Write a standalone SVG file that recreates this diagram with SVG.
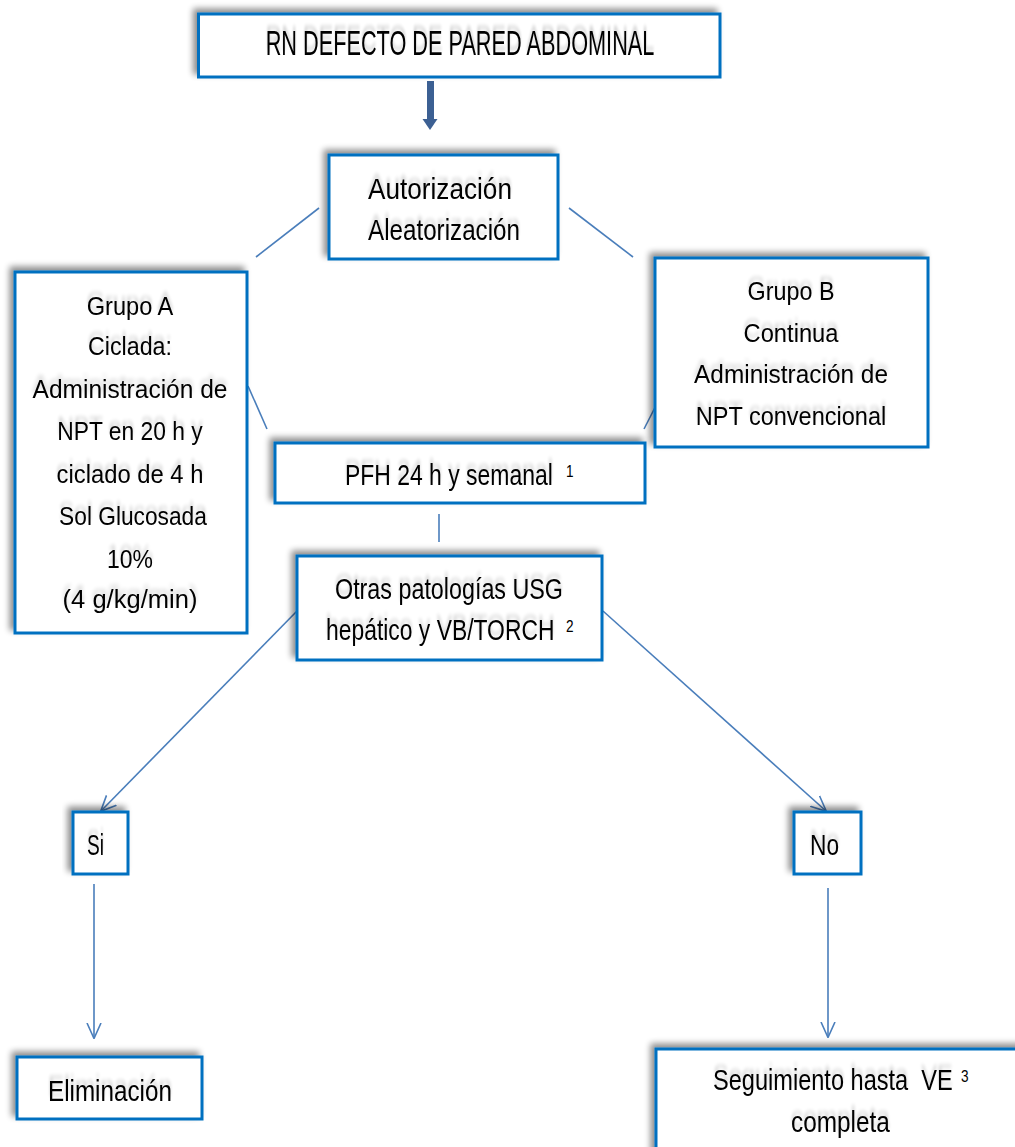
<svg xmlns="http://www.w3.org/2000/svg" width="1015" height="1147" viewBox="0 0 1015 1147">
<defs>
<style>
.box{fill:#ffffff;stroke:#0070C0;stroke-width:3;filter:url(#sh)}
.t{font-family:"Liberation Sans",Arial,sans-serif;fill:#000000;filter:url(#tsh)}
.big{font-size:36px}
.m{font-size:30px}
.s{font-size:26px}
.sup{font-family:"Liberation Sans",Arial,sans-serif;font-size:17px;fill:#000000}
.c{fill:none;stroke:#4A7EBB;stroke-width:1.6}
.ca{fill:none;stroke:#4A7EBB;stroke-width:1.6;marker-end:url(#ah)}
</style>
<filter id="sh" x="-20%" y="-20%" width="140%" height="140%">
<feGaussianBlur in="SourceAlpha" stdDeviation="3"/>
<feOffset dx="-4" dy="-4" result="b"/>
<feComponentTransfer><feFuncA type="linear" slope="0.45"/></feComponentTransfer>
<feMerge><feMergeNode/><feMergeNode in="SourceGraphic"/></feMerge>
</filter>
<filter id="tsh" x="-10%" y="-50%" width="120%" height="200%">
<feGaussianBlur in="SourceAlpha" stdDeviation="2"/>
<feOffset dx="0" dy="-5"/>
<feComponentTransfer><feFuncA type="linear" slope="0.18"/></feComponentTransfer>
<feMerge><feMergeNode/><feMergeNode in="SourceGraphic"/></feMerge>
</filter>
<marker id="ah" viewBox="0 0 16 16" refX="15" refY="8" markerWidth="16" markerHeight="16" markerUnits="userSpaceOnUse" orient="auto">
<path d="M0,1 L15.5,8 L0,15" fill="none" stroke="#4A7EBB" stroke-width="1.6"/>
</marker>
</defs>
<rect width="1015" height="1147" fill="#ffffff"/>

<g id="connectors">
<rect x="427" y="81" width="7" height="40" fill="#3C6093"/>
<polygon points="422.5,119 437.5,119 430,130" fill="#3C6093"/>
<line class="c" x1="319" y1="208" x2="256" y2="257"/>
<line class="c" x1="569" y1="208" x2="633" y2="257"/>
<line class="c" x1="248" y1="386" x2="267" y2="429"/>
<line class="c" x1="666" y1="386" x2="644" y2="429"/>
<line class="c" x1="439" y1="514" x2="439" y2="542"/>
<line class="ca" x1="297" y1="611" x2="101" y2="811"/>
<line class="ca" x1="603" y1="611" x2="826" y2="811"/>
<line class="ca" x1="94" y1="884" x2="94" y2="1038"/>
<line class="ca" x1="828" y1="888" x2="828" y2="1037"/>
</g>

<g id="node-top">
<rect class="box" x="198.5" y="14" width="521.5" height="63"/>
<text class="t big" transform="translate(460,55) scale(0.603,1)" text-anchor="middle">RN DEFECTO DE PARED ABDOMINAL</text>
</g>

<g id="node-autorizacion">
<rect class="box" x="329" y="155" width="229" height="104"/>
<text class="t m" transform="translate(440,199) scale(0.872,1)" text-anchor="middle">Autorización</text>
<text class="t m" transform="translate(444,240) scale(0.807,1)" text-anchor="middle">Aleatorización</text>
</g>

<g id="node-grupoA">
<rect class="box" x="15" y="272" width="232" height="361"/>
<text class="t s" transform="translate(130,315) scale(0.909,1)" text-anchor="middle">Grupo A</text>
<text class="t s" transform="translate(130,355) scale(0.895,1)" text-anchor="middle">Ciclada:</text>
<text class="t s" transform="translate(130,398) scale(0.944,1)" text-anchor="middle">Administración de</text>
<text class="t s" transform="translate(130,440) scale(0.878,1)" text-anchor="middle">NPT en 20 h y</text>
<text class="t s" transform="translate(130,483) scale(0.916,1)" text-anchor="middle">ciclado de 4 h</text>
<text class="t s" transform="translate(133,525) scale(0.875,1)" text-anchor="middle">Sol Glucosada</text>
<text class="t s" transform="translate(130,568) scale(0.884,1)" text-anchor="middle">10%</text>
<text class="t s" transform="translate(130,608) scale(0.983,1)" text-anchor="middle">(4 g/kg/min)</text>
</g>

<g id="node-grupoB">
<rect class="box" x="655" y="258" width="273" height="189"/>
<text class="t s" transform="translate(791,300) scale(0.899,1)" text-anchor="middle">Grupo B</text>
<text class="t s" transform="translate(791,342) scale(0.913,1)" text-anchor="middle">Continua</text>
<text class="t s" transform="translate(791,383) scale(0.939,1)" text-anchor="middle">Administración de</text>
<text class="t s" transform="translate(791,425) scale(0.905,1)" text-anchor="middle">NPT convencional</text>
</g>

<g id="node-pfh">
<rect class="box" x="275" y="443" width="370" height="60"/>
<text class="t m" transform="translate(345,485) scale(0.765,1)">PFH 24 h y semanal</text>
<text class="sup" transform="translate(566,477) scale(0.8,1)">1</text>
</g>

<g id="node-otras">
<rect class="box" x="297" y="556" width="305" height="104"/>
<text class="t m" transform="translate(449,599) scale(0.777,1)" text-anchor="middle">Otras patologías USG</text>
<text class="t m" transform="translate(326,640) scale(0.763,1)">hepático y VB/TORCH</text>
<text class="sup" transform="translate(566,632) scale(0.8,1)">2</text>
</g>

<g id="node-si">
<rect class="box" x="73" y="812" width="55" height="62"/>
<text class="t m" transform="translate(87,855) scale(0.637,1)">Si</text>
</g>

<g id="node-no">
<rect class="box" x="794" y="812" width="67" height="62"/>
<text class="t m" transform="translate(810,855) scale(0.757,1)">No</text>
</g>

<g id="node-eliminacion">
<rect class="box" x="17" y="1057" width="185" height="62"/>
<text class="t m" transform="translate(48,1101) scale(0.808,1)">Eliminación</text>
</g>

<g id="node-seguimiento">
<rect class="box" x="656" y="1049" width="400" height="140"/>
<text class="t m" transform="translate(713,1090) scale(0.786,1)" xml:space="preserve">Seguimiento hasta  VE</text>
<text class="sup" transform="translate(961,1082) scale(0.8,1)">3</text>
<text class="t m" transform="translate(791,1132) scale(0.813,1)">completa</text>
</g>
</svg>
